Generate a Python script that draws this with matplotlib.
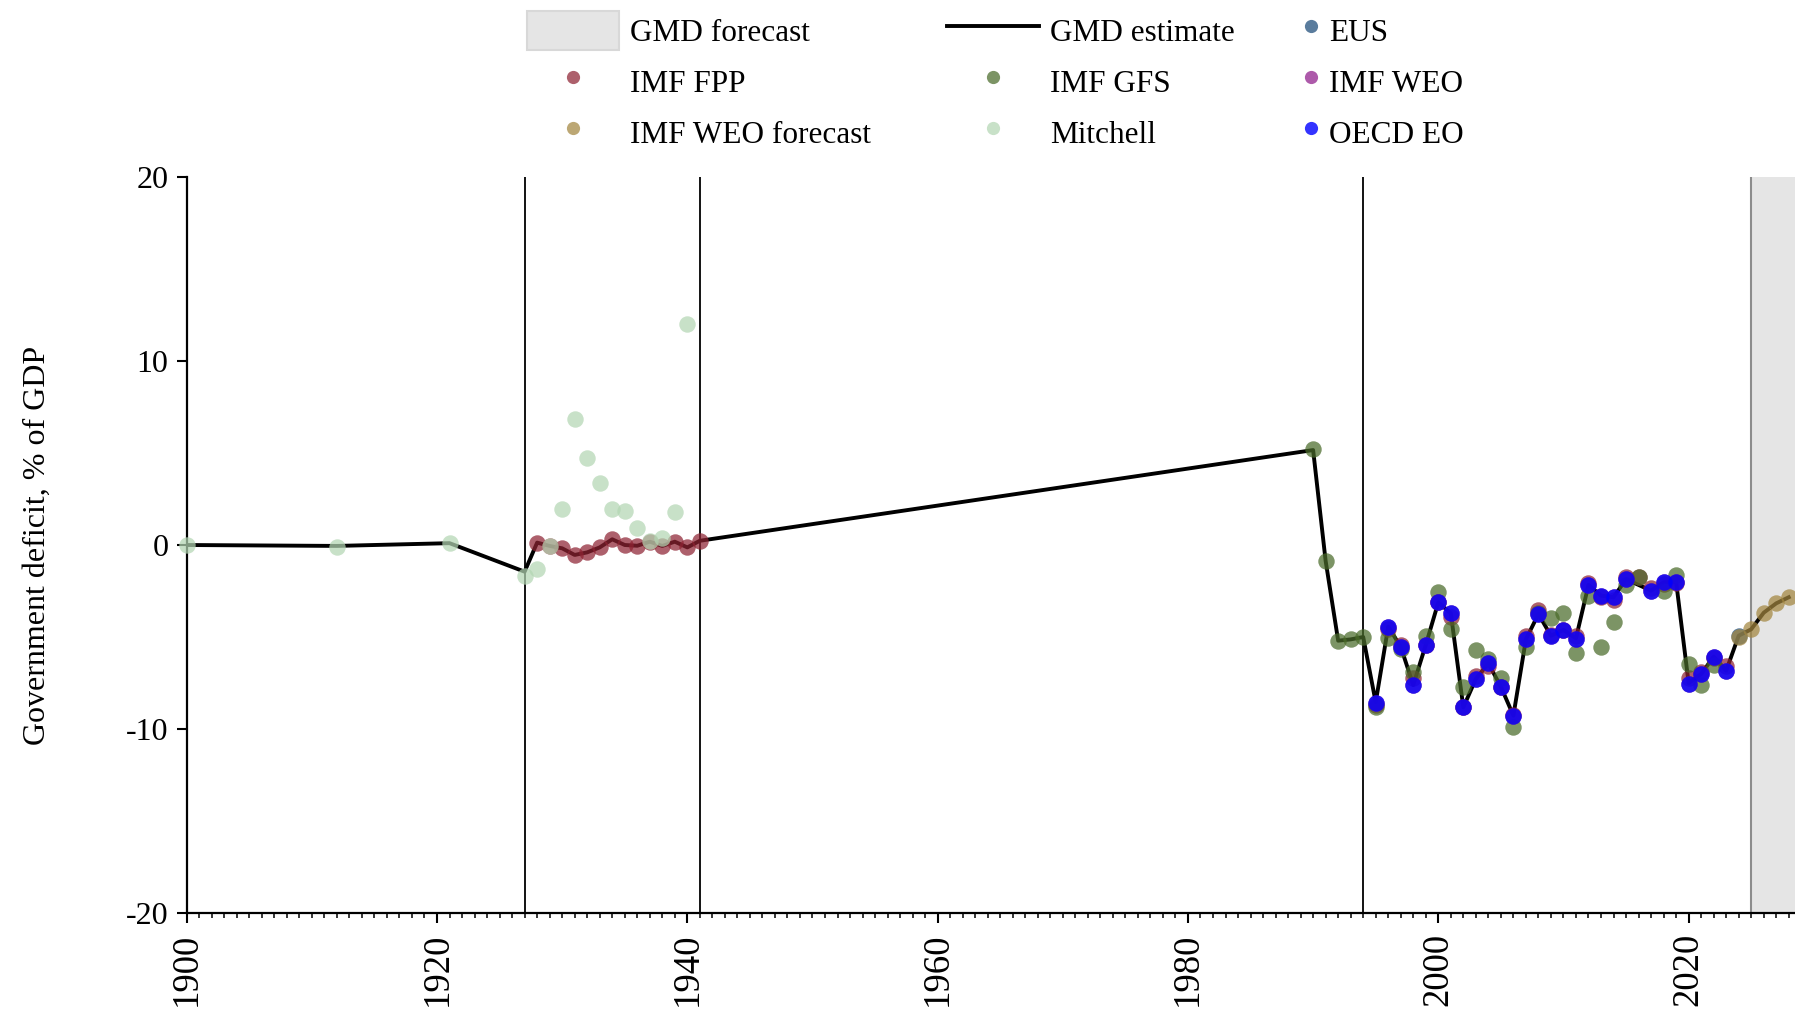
import matplotlib
matplotlib.use("Agg")
import matplotlib.pyplot as plt
from matplotlib.patches import Patch
from matplotlib.lines import Line2D
from matplotlib.ticker import MultipleLocator

plt.rcParams['font.family'] = ['Liberation Serif', 'DejaVu Serif']
plt.rcParams['axes.unicode_minus'] = False

# ---------------- data ----------------
gmd_years = [1900, 1912, 1921, 1927, 1928, 1929, 1930, 1931, 1932, 1933, 1934, 1935, 1936,
             1937, 1938, 1939, 1940, 1941,
             1990, 1991, 1992, 1993, 1994, 1995, 1996, 1997, 1998, 1999, 2000, 2001, 2002,
             2003, 2004, 2005, 2006, 2007, 2008, 2009, 2010, 2011, 2012, 2013, 2014, 2015,
             2017, 2018, 2019, 2020, 2021, 2022, 2023, 2024, 2025, 2026, 2027, 2028]
gmd_values = [0.0, -0.05, 0.1, -1.45, 0.13, -0.05, -0.18, -0.54, -0.40, -0.13, 0.31, 0.0, -0.04,
              0.18, -0.05, 0.18, -0.13, 0.23,
              5.16, -0.87, -5.2, -5.13, -5.0, -8.55, -4.44, -5.53, -7.61, -5.43, -3.12, -3.71, -8.82,
              -7.28, -6.43, -7.70, -9.27, -5.13, -3.75, -4.93, -4.62, -5.07, -2.17, -2.75, -2.84, -1.86,
              -2.48, -2.03, -1.99, -7.5, -7.01, -6.07, -6.83, -4.93, -4.58, -3.68, -3.17, -2.84]

eus_years = [2024]
eus_values = [-4.93]

fpp_years = [1928, 1929, 1930, 1931, 1932, 1933, 1934, 1935, 1936, 1937, 1938, 1939, 1940, 1941,
             1995, 1996, 1997, 1998, 1999, 2000, 2001, 2002, 2003, 2004, 2005, 2006, 2007, 2008,
             2009, 2010, 2011, 2012, 2013, 2014, 2015, 2016, 2017, 2018, 2019, 2020, 2021, 2022, 2023]
fpp_values = [0.13, -0.05, -0.18, -0.54, -0.40, -0.13, 0.31, 0.0, -0.04, 0.18, -0.05, 0.18, -0.13, 0.23,
              -8.7, -4.58, -5.46, -7.25, -5.43, -3.08, -3.9, -8.79, -7.12, -6.58, -7.7, -9.24, -4.95, -3.53,
              -4.89, -4.6, -4.95, -2.08, -2.81, -2.99, -1.72, -1.72, -2.36, -2.1, -2.08, -7.25, -6.9, -6.12, -6.6]

gfs_years = [1990, 1991, 1992, 1993, 1994, 1995, 1996, 1997, 1998, 1999, 2000, 2001, 2002, 2003,
             2004, 2005, 2006, 2007, 2008, 2009, 2010, 2011, 2012, 2013, 2014, 2015, 2016, 2018,
             2019, 2020, 2021, 2022]
gfs_values = [5.2, -0.85, -5.2, -5.13, -4.98, -8.82, -5.07, -5.67, -6.88, -4.95, -2.54, -4.58, -7.70, -5.71,
              -6.21, -7.25, -9.91, -5.53, -3.68, -3.95, -3.68, -5.85, -2.77, -5.53, -4.17, -2.2, -1.72, -2.5,
              -1.63, -6.49, -7.61, -6.5]

oecd_years = [1995, 1996, 1997, 1998, 1999, 2000, 2001, 2002, 2003, 2004, 2005, 2006, 2007, 2008,
              2009, 2010, 2011, 2012, 2013, 2014, 2015, 2017, 2018, 2019, 2020, 2021, 2022, 2023]
oecd_values = [-8.60, -4.44, -5.53, -7.61, -5.43, -3.12, -3.71, -8.82, -7.28, -6.43, -7.70, -9.27, -5.13, -3.75,
               -4.95, -4.62, -5.09, -2.17, -2.75, -2.84, -1.86, -2.48, -2.03, -1.99, -7.57, -7.01, -6.07, -6.83]

weo_years = [1995, 1996, 1997, 1998, 1999, 2000, 2001, 2002, 2003, 2004, 2005, 2006, 2007, 2008,
             2009, 2010, 2011, 2012, 2013, 2014, 2015, 2017, 2018, 2019, 2020, 2021, 2022, 2023]
weo_values = [-8.60, -4.44, -5.53, -7.61, -5.43, -3.12, -3.71, -8.82, -7.28, -6.43, -7.70, -9.27, -5.13, -3.75,
              -4.95, -4.62, -5.09, -2.17, -2.75, -2.84, -1.86, -2.48, -2.03, -1.99, -7.57, -7.01, -6.07, -6.83]

weof_years = [2024, 2025, 2026, 2027, 2028]
weof_values = [-5.02, -4.58, -3.68, -3.17, -2.84]

mitchell_years = [1900, 1912, 1921, 1927, 1928, 1929, 1930, 1931, 1932, 1933, 1934, 1935, 1936,
                  1937, 1938, 1939, 1940]
mitchell_values = [0.0, -0.09, 0.13, -1.68, -1.29, -0.05, 1.94, 6.83, 4.71, 3.35, 1.96, 1.87, 0.94,
                   0.23, 0.40, 1.78, 12.0]

crisis_years = [1927, 1941, 1994]
forecast_start = 2025
x_range = (1900, 2028.5)
y_ticks = [-20, -10, 0, 10, 20]
x_ticks = [1900, 1920, 1940, 1960, 1980, 2000, 2020]

# ---------------- styles ----------------
c_eus = '#1b4a78'
c_fpp = '#8e2333'
c_gfs = '#4a6b2a'
c_weo = '#8e1a8a'
c_weof = '#a3863f'
c_mit = '#b3d6b3'
c_oecd = '#0000ff'
alpha = 0.72
ms = 140

fig = plt.figure(figsize=(17.95, 10.15), dpi=100)
ax = fig.add_axes([0.104, 0.1005, 0.896, 0.7251])

ax.axvspan(forecast_start, x_range[1], facecolor='#e5e5e5', edgecolor='none', zorder=0)
ax.axvline(forecast_start, color='#8c8c8c', lw=1.5, zorder=1)
for yr in crisis_years:
    ax.axvline(yr, color='black', lw=1.3, zorder=1)

ax.plot(gmd_years, gmd_values, color='black', lw=2.8, zorder=2)

kw = dict(s=ms, linewidths=0, alpha=alpha, zorder=3, clip_on=False)
ax.scatter(eus_years, eus_values, color=c_eus, **kw)
ax.scatter(fpp_years, fpp_values, color=c_fpp, **kw)
ax.scatter(gfs_years, gfs_values, color=c_gfs, **kw)
ax.scatter(weo_years, weo_values, color=c_weo, **kw)
ax.scatter(weof_years, weof_values, color=c_weof, **kw)
ax.scatter(mitchell_years, mitchell_values, color=c_mit, **kw)
ax.scatter(oecd_years, oecd_values, color=c_oecd, s=ms, linewidths=0, alpha=0.8, zorder=4)

ax.set_xlim(*x_range)
ax.set_ylim(-20, 20)
ax.set_yticks(y_ticks)
ax.set_xticks(x_ticks)
ax.xaxis.set_minor_locator(MultipleLocator(1))
for s in ['top', 'right']:
    ax.spines[s].set_visible(False)
for s in ['left', 'bottom']:
    ax.spines[s].set_linewidth(1.6)
ax.tick_params(axis='y', length=7, width=1.5, pad=6, labelsize=23)
ax.tick_params(axis='x', which='major', length=7, width=1.5, pad=7, labelsize=26.5, labelrotation=90)
ax.tick_params(axis='x', which='minor', length=3.5, width=1.1)
ax.set_ylabel('Government deficit, % of GDP', fontsize=23)
ax.yaxis.set_label_coords(-0.084, 0.5)

# ---------------- legend ----------------
def dot(c, a=alpha):
    return Line2D([0], [0], marker='o', ls='none', markerfacecolor=c, markeredgecolor='none',
                  alpha=a, markersize=9.5)

col1 = [(Patch(facecolor='#e5e5e5', edgecolor='#d8d8d8', lw=1.5), 'GMD forecast'),
        (dot(c_fpp), 'IMF FPP'),
        (dot(c_weof), 'IMF WEO forecast')]
col2 = [(Line2D([0], [0], color='black', lw=2.8), 'GMD estimate'),
        (dot(c_gfs), 'IMF GFS'),
        (dot(c_mit), 'Mitchell')]
col3 = [(dot(c_eus), 'EUS'),
        (dot(c_weo), 'IMF WEO'),
        (dot(c_oecd, 0.8), 'OECD EO')]

common = dict(loc='upper left', bbox_transform=fig.transFigure, frameon=False, borderpad=0,
              borderaxespad=0, fontsize=22.5, handleheight=1.55, handletextpad=0.36, labelspacing=0.38)
for col, x, hl in [(col1, 0.2934, 2.95), (col2, 0.5275, 2.95), (col3, 0.727, 0.4)]:
    h, l = zip(*col)
    fig.legend(h, l, bbox_to_anchor=(x, 0.989), handlelength=hl, **common)

fig.savefig('out.png', dpi=100)
